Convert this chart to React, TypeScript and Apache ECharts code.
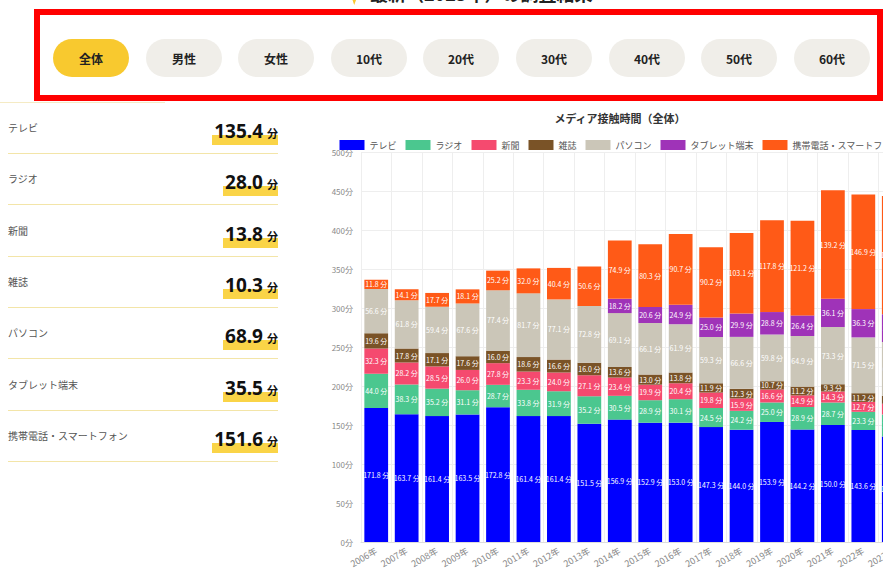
import React, { useEffect, useRef } from "react";
import * as echarts from "echarts";

const years = ["2006年","2007年","2008年","2009年","2010年","2011年","2012年","2013年","2014年","2015年","2016年","2017年","2018年","2019年","2020年","2021年","2022年","2023年"];
const seriesNames = ["テレビ","ラジオ","新聞","雑誌","パソコン","タブレット端末","携帯電話・スマートフォン"];
const seriesColors = ["#0000FF","#4BC78F","#F54A6F","#7A5327","#CBC6B8","#9F33B8","#FF5A17"];
const tv = [171.8,163.7,161.4,163.5,172.8,161.4,161.4,151.5,156.9,152.9,153.0,147.3,144.0,153.9,144.2,150.0,143.6,135.4];
const radio = [44.0,38.3,35.2,31.1,28.7,33.8,31.9,35.2,30.5,28.9,30.1,24.5,24.2,25.0,28.9,28.7,23.3,28.0];
const newspaper = [32.3,28.2,28.5,26.0,27.8,23.3,24.0,27.1,23.4,19.9,20.4,19.8,15.9,16.6,14.9,14.3,12.7,13.8];
const magazine = [19.6,17.8,17.1,17.6,16.0,18.6,16.6,16.0,13.6,13.0,13.8,11.9,12.3,10.7,11.2,9.3,11.2,10.3];
const pc = [56.6,61.8,59.4,67.6,77.4,81.7,77.1,72.8,69.1,66.1,61.9,59.3,66.6,59.8,64.9,73.3,71.5,68.9];
const tablet = [null,null,null,null,null,null,null,null,18.2,20.6,24.9,25.0,29.9,28.8,26.4,36.1,36.3,35.5];
const mobile = [11.8,14.1,17.7,18.1,25.2,32.0,40.4,50.6,74.9,80.3,90.7,90.2,103.1,117.8,121.2,139.2,146.9,151.6];
const seriesData = [tv, radio, newspaper, magazine, pc, tablet, mobile];

const tabs = ["全体","男性","女性","10代","20代","30代","40代","50代","60代"];
const tabLefts = [53,146,238,331,423,516,609,701,794];

const summaryLabels = ["テレビ","ラジオ","新聞","雑誌","パソコン","タブレット端末","携帯電話・スマートフォン"];
const summaryValues = ["135.4","28.0","13.8","10.3","68.9","35.5","151.6"];

const jp = '"Noto Sans CJK JP", "Noto Sans", sans-serif';

function Chart() {
  const ref = useRef<HTMLDivElement>(null);
  useEffect(() => {
    const chart = echarts.init(ref.current!, null, { renderer: "svg" });
    chart.setOption({
      animation: false,
      textStyle: { fontFamily: jp },
      title: {
        text: "メディア接触時間（全体）",
        left: "center",
        top: 7,
        textStyle: { fontSize: 11, fontWeight: "bold", color: "#333", fontFamily: jp },
      },
      legend: {
        top: 35,
        left: "center",
        itemWidth: 25,
        itemHeight: 10,
        itemGap: 9,
        icon: "rect",
        textStyle: { fontSize: 9, color: "#555", fontFamily: jp },
        data: seriesNames,
      },
      grid: { left: 37, right: 7, top: 52, bottom: 42, containLabel: false },
      xAxis: {
        type: "category",
        data: years,
        axisLabel: { rotate: 30, fontSize: 9, color: "#888", interval: 0, margin: 8 },
        axisLine: { lineStyle: { color: "#ddd" } },
        axisTick: { show: false },
        splitLine: { show: true, lineStyle: { color: "#eee" } },
      },
      yAxis: {
        type: "value",
        min: 0,
        max: 500,
        interval: 50,
        axisLabel: { formatter: "{value}分", fontSize: 8, color: "#888" },
        splitLine: { lineStyle: { color: "#eee" } },
      },
      series: seriesNames.map((name, i) => ({
        name,
        type: "bar",
        stack: "total",
        barCategoryGap: "22%",
        data: seriesData[i],
        itemStyle: { color: seriesColors[i] },
        label: {
          show: true,
          position: "inside",
          fontSize: 7,
          color: "#fff",
          formatter: (p: any) => (p.value == null ? "" : Number(p.value).toFixed(1) + " 分"),
        },
      })),
    });
    return () => chart.dispose();
  }, []);
  return <div ref={ref} style={{ position: "absolute", left: 324, top: 100, width: 592, height: 484 }} />;
}

export default function App() {
  return (
    <div style={{ position: "fixed", left: 0, top: 0, width: 883, height: 584, overflow: "hidden", background: "#fff", fontFamily: jp }}>
      {/* cut-off heading */}
      <div style={{ position: "absolute", left: 343, top: -8, width: 16, height: 13, background: "#F9C930", clipPath: "polygon(0 0, 100% 0, 70% 100%, 55% 45%, 0 45%)" }} />
      <div style={{ position: "absolute", left: 370, top: -20, fontSize: 18, fontWeight: 700, color: "#222", whiteSpace: "nowrap" }}>最新（2023年）の調査結果</div>

      {/* red frame */}
      <div style={{ position: "absolute", left: 34, top: 9, width: 849, height: 92, border: "6px solid #FF0000", boxSizing: "border-box" }} />

      {tabs.map((t, i) => (
        <div key={t} style={{
          position: "absolute", left: tabLefts[i], top: 39, width: 76, height: 38, borderRadius: 19,
          background: i === 0 ? "#F8C92F" : "#F0EEE9", display: "flex", alignItems: "center", justifyContent: "center",
          fontSize: 12, fontWeight: 700, color: "#222",
        }}>{t}</div>
      ))}

      {/* summary list */}
      <div style={{ position: "absolute", left: 0, top: 102, width: 165, height: 1, background: "#F5EBC4" }} />
      {summaryLabels.map((l, i) => {
        const top = 102 + i * 51.3;
        return (
          <React.Fragment key={l}>
            <div style={{ position: "absolute", left: 8, top: top + 19, fontSize: 10, color: "#555", lineHeight: "14px", whiteSpace: "nowrap" }}>{l}</div>
            <div style={{ position: "absolute", right: 883 - 278, top: top + 17, whiteSpace: "nowrap", lineHeight: "24px", fontFamily: '"Noto Sans", sans-serif', fontWeight: 700, color: "#111", background: "linear-gradient(transparent 60%, #FAD447 60%)", paddingLeft: 2 }}>
              <span style={{ fontSize: 19 }}>{summaryValues[i]}</span>
              <span style={{ fontSize: 11, marginLeft: 4, fontFamily: jp }}>分</span>
            </div>
            <div style={{ position: "absolute", left: 8, top: top + 51, width: 270, height: 1, background: "#F3E5A8" }} />
          </React.Fragment>
        );
      })}

      <Chart />
    </div>
  );
}
